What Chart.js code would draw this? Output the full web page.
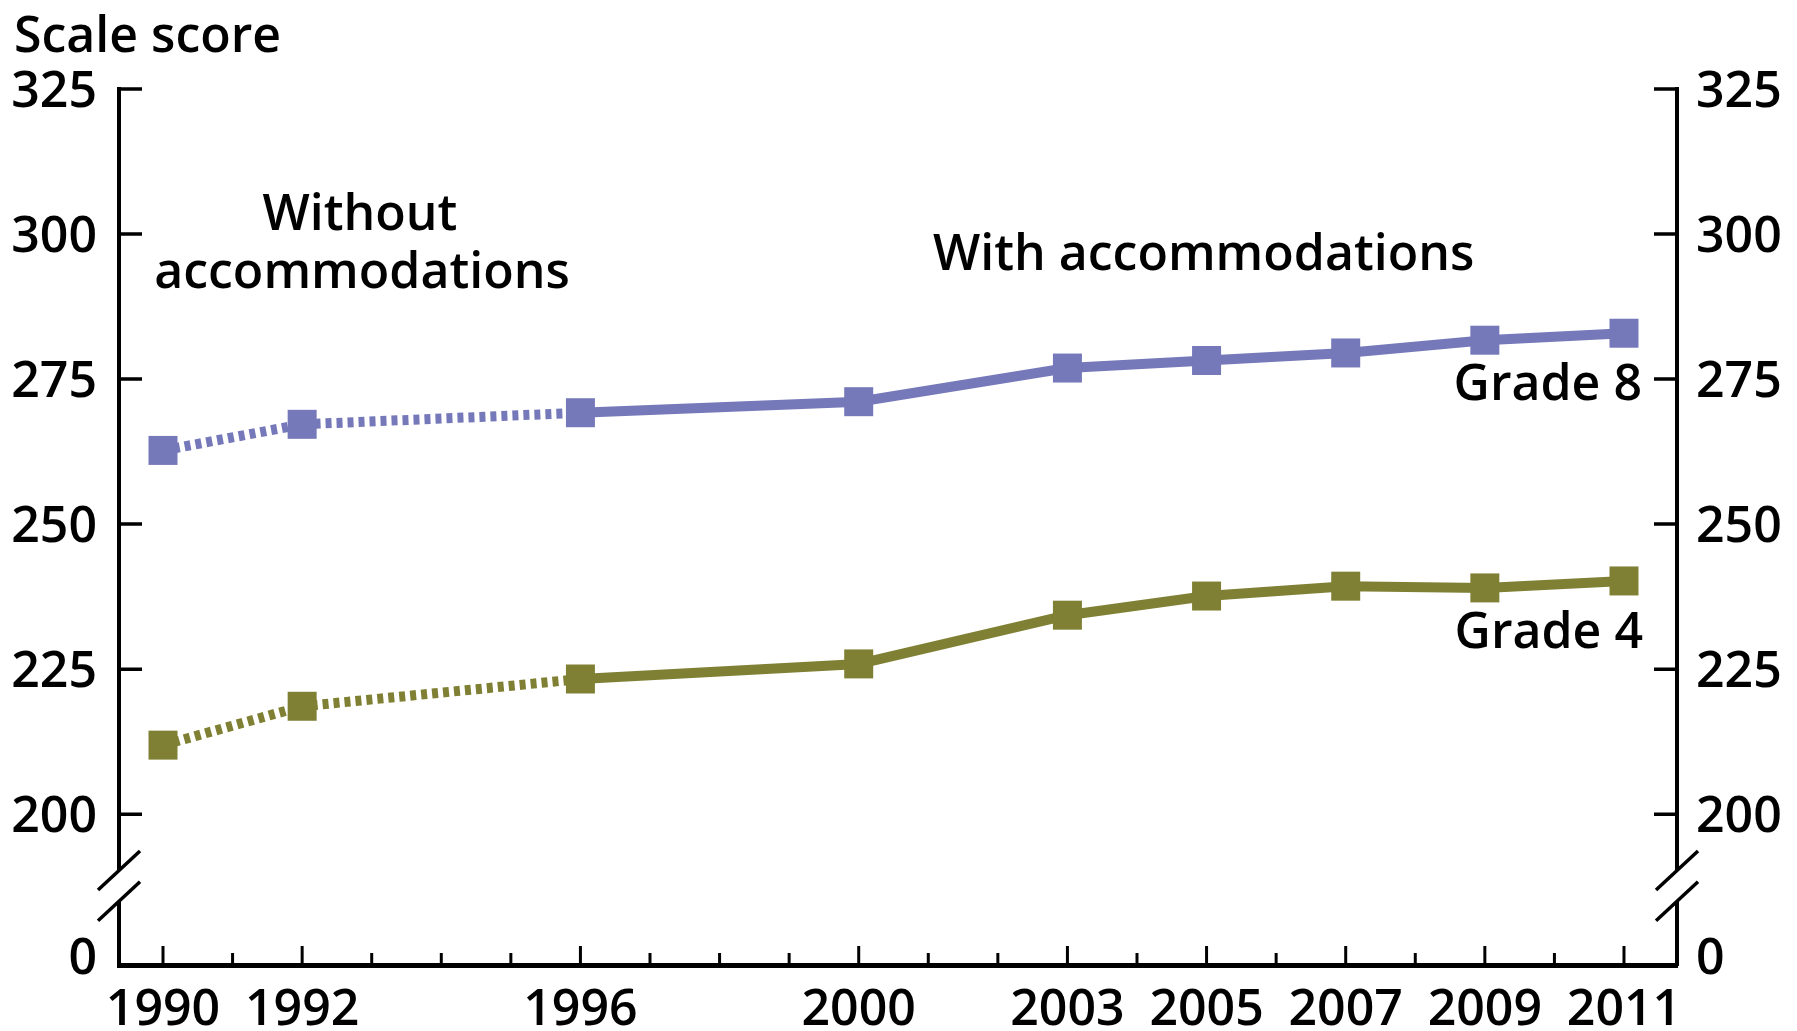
<!DOCTYPE html>
<html>
<head>
<meta charset="utf-8">
<title>Scale score</title>
<script src="https://cdn.jsdelivr.net/npm/chart.js@4.4.1/dist/chart.umd.min.js"></script>
<style>
  html, body { margin: 0; padding: 0; background: #fff; }
  #wrap { width: 1797px; height: 1031px; }
</style>
</head>
<body>
<div id="wrap"><canvas id="chart" width="1797" height="1031"></canvas></div>
<script>
// data
var years = [1990, 1992, 1996, 2000, 2003, 2005, 2007, 2009, 2011];
var grade8 = [262.7, 267.2, 269.2, 271.1, 276.9, 278.2, 279.5, 281.7, 282.9];
var grade4 = [211.9, 218.6, 223.3, 225.9, 234.3, 237.6, 239.3, 239.0, 240.2];
var yTicks = [200, 225, 250, 275, 300, 325];
var xTickYears = years;

var purple = '#7578b9';
var olive = '#7f8034';
var fontFamily = "'Open Sans', 'Noto Sans', sans-serif";

// the broken axis: everything below 200 is squeezed, "0" sits just above the x axis
var yMin = 174, yMax = 325;
var zeroLabelAt = 175.6;

Chart.defaults.font.family = fontFamily;
Chart.defaults.font.size = 50;
Chart.defaults.font.weight = '600';
Chart.defaults.color = '#000';

function toPoints(vals){
    var pts = [];
    for(var i = 0; i < years.length; i++){
        pts.push({x: years[i], y: vals[i]});
    }
    return pts;
}

// first two segments (1990-1996) are "without accommodations" -> dotted
function dottedEarly(ctx){
    return ctx.p0DataIndex < 2 ? [6, 5] : undefined;
}

function yAxis(position, width, pad){
    return {
        type: 'linear',
        position: position,
        min: yMin,
        max: yMax,
        afterBuildTicks: function(scale){
            scale.ticks = [zeroLabelAt].concat(yTicks).map(function(v){ return {value: v}; });
        },
        afterFit: function(scale){ scale.width = width; },
        ticks: {
            padding: pad,
            labelOffset: 4,
            autoSkip: false,
            callback: function(v){ return v < 200 ? '0' : String(v); }
        },
        grid: { display: false, drawTicks: false },
        border: { display: true, color: '#000', width: 4 }
    };
}

var decor = {
    id: 'decor',
    afterDraw: function(chart){
        var ctx = chart.ctx;
        var area = chart.chartArea;
        var xs = chart.scales.x;
        var ys = chart.scales.y;
        ctx.save();
        ctx.strokeStyle = '#000';
        ctx.lineCap = 'butt';

        // inward tick marks on both value axes
        ctx.lineWidth = 3.5;
        for(var t of yTicks){
            var py = ys.getPixelForValue(t);
            ctx.beginPath();
            ctx.moveTo(area.left, py); ctx.lineTo(area.left + 23, py);
            ctx.moveTo(area.right, py); ctx.lineTo(area.right - 23, py);
            ctx.stroke();
        }

        // year ticks, longer on labelled years
        ctx.lineWidth = 3;
        for(var yr = years[0]; yr <= years[years.length - 1]; yr++){
            var px = xs.getPixelForValue(yr);
            var len = xTickYears.indexOf(yr) >= 0 ? 19 : 12;
            ctx.beginPath();
            ctx.moveTo(px, area.bottom);
            ctx.lineTo(px, area.bottom - len);
            ctx.stroke();
        }

        // axis breaks
        var upper = ys.getPixelForValue(190.3);
        var lower = ys.getPixelForValue(185.0);
        for(var ax of [area.left, area.right]){
            ctx.fillStyle = '#fff';
            ctx.fillRect(ax - 4, upper, 8, lower - upper);
            ctx.lineWidth = 3.5;
            for(var c of [upper, lower]){
                ctx.beginPath();
                ctx.moveTo(ax - 21, c + 19.5);
                ctx.lineTo(ax + 21, c - 19.5);
                ctx.stroke();
            }
        }

        // texts
        ctx.fillStyle = '#000';
        ctx.font = '600 50px ' + fontFamily;
        ctx.textBaseline = 'alphabetic';
        ctx.textAlign = 'left';
        ctx.fillText('Scale score', 14, 52);
        ctx.textAlign = 'center';
        ctx.fillText('Without', 360, 230);
        ctx.fillText('accommodations', 362, 288);
        ctx.textAlign = 'left';
        ctx.fillText('With accommodations', 933, 270);
        ctx.textAlign = 'right';
        ctx.fillText('Grade 8', 1642, 400);
        ctx.fillText('Grade 4', 1643, 648);
        ctx.restore();
    }
};

var chart = new Chart(document.getElementById('chart').getContext('2d'), {
    type: 'line',
    data: {
        datasets: [{
            label: 'Grade 8',
            data: toPoints(grade8),
            borderColor: purple,
            backgroundColor: purple,
            borderWidth: 10,
            pointStyle: 'rect',
            pointRadius: 20.5,
            pointBorderWidth: 0,
            pointBackgroundColor: purple,
            tension: 0,
            segment: { borderDash: dottedEarly }
        },
        {
            label: 'Grade 4',
            data: toPoints(grade4),
            borderColor: olive,
            backgroundColor: olive,
            borderWidth: 10,
            pointStyle: 'rect',
            pointRadius: 20.5,
            pointBorderWidth: 0,
            pointBackgroundColor: olive,
            tension: 0,
            segment: { borderDash: dottedEarly }
        }]
    },
    options: {
        responsive: false,
        animation: false,
        devicePixelRatio: 1,
        layout: { padding: { top: 89, left: 0, right: 0, bottom: 0 } },
        plugins: {
            legend: { display: false },
            tooltip: { enabled: false }
        },
        events: [],
        scales: {
            x: {
                type: 'linear',
                position: 'bottom',
                min: 1989.3675,
                max: 2011.762,
                afterBuildTicks: function(scale){
                    scale.ticks = xTickYears.map(function(v){ return {value: v}; });
                },
                afterFit: function(scale){ scale.height = 66; },
                ticks: {
                    padding: 16,
                    autoSkip: false,
                    maxRotation: 0,
                    callback: function(v){ return String(v); }
                },
                grid: { display: false, drawTicks: false },
                border: { display: true, color: '#000', width: 5 }
            },
            y: yAxis('left', 119, 22),
            y2: yAxis('right', 120, 19)
        }
    },
    plugins: [decor]
});
</script>
</body>
</html>
